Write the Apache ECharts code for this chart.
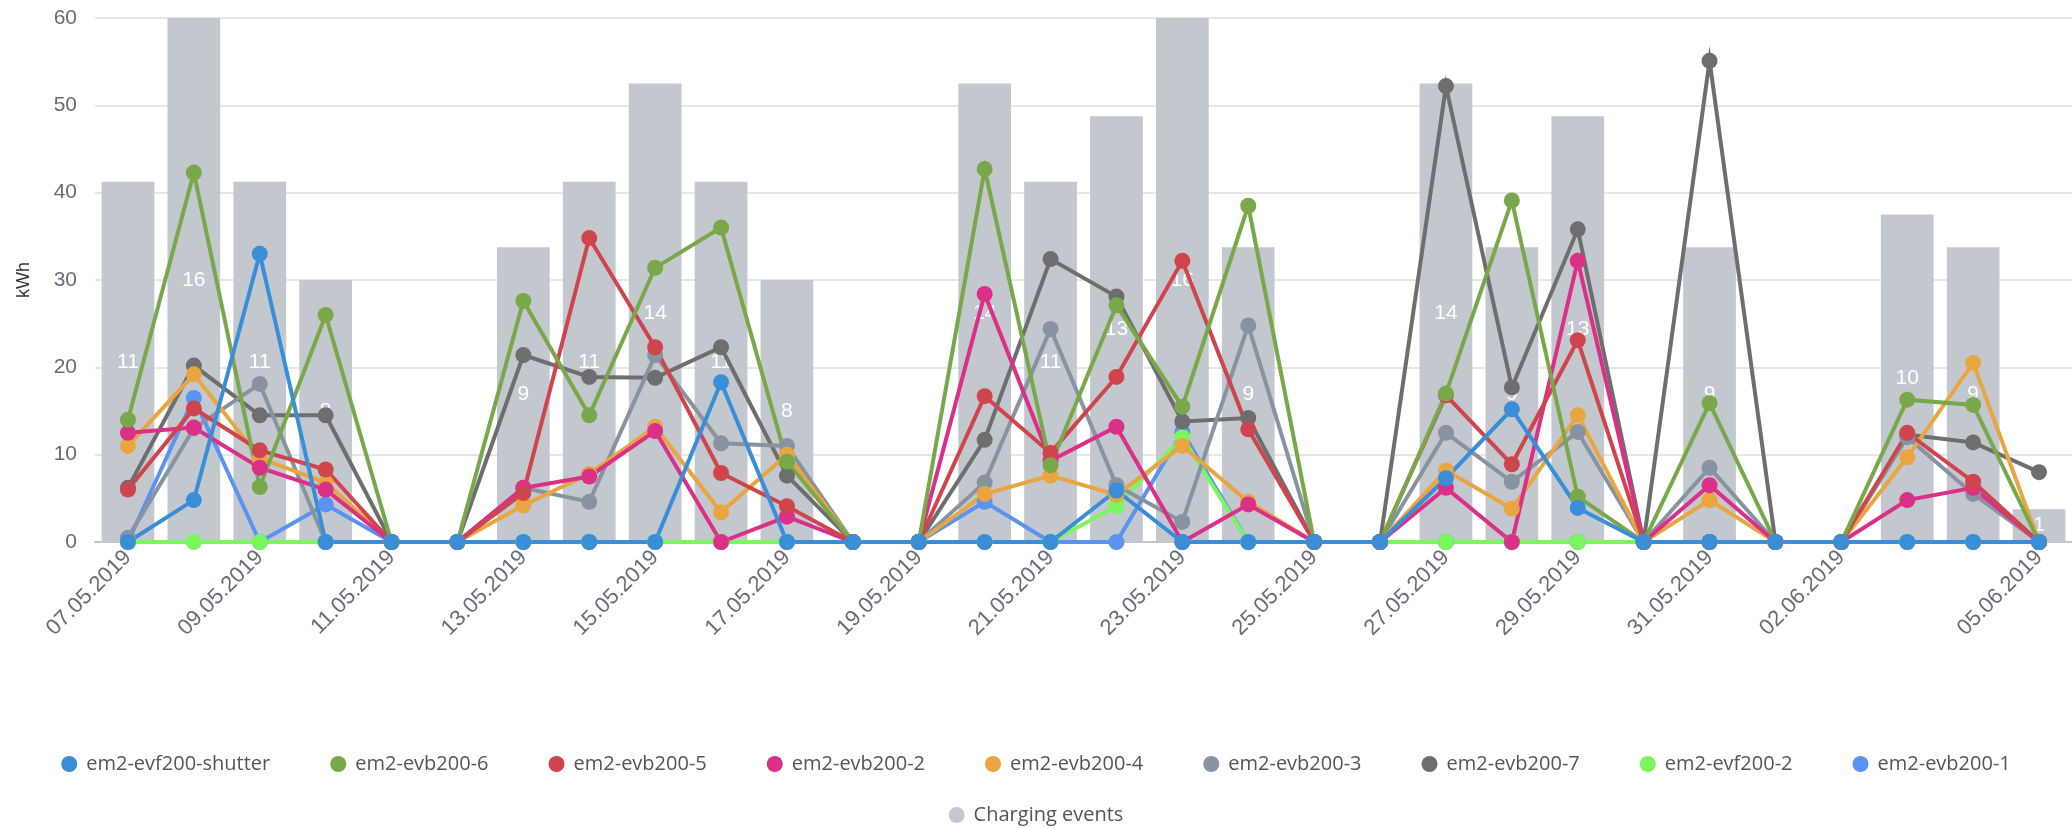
<!DOCTYPE html>
<html>
<head>
<meta charset="utf-8">
<script src="https://cdn.jsdelivr.net/npm/echarts@6/dist/echarts.min.js"></script>
<style>
html,body{margin:0;padding:0;background:#fff;}
#chart{width:2072px;height:828px;}
</style>
</head>
<body>
<div id="chart"></div>
<script>
const categories = ["07.05.2019","08.05.2019","09.05.2019","10.05.2019","11.05.2019","12.05.2019","13.05.2019","14.05.2019","15.05.2019","16.05.2019","17.05.2019","18.05.2019","19.05.2019","20.05.2019","21.05.2019","22.05.2019","23.05.2019","24.05.2019","25.05.2019","26.05.2019","27.05.2019","28.05.2019","29.05.2019","30.05.2019","31.05.2019","01.06.2019","02.06.2019","03.06.2019","04.06.2019","05.06.2019"];

const chargingEvents = [11,16,11,8,null,null,9,11,14,11,8,null,null,14,11,13,16,9,null,null,14,9,13,null,9,null,null,10,9,1];

const evf200Shutter = [0,4.8,33,0,0,0,0,0,0,18.3,0,0,0,0,0,5.9,0,0,0,0,7.3,15.2,3.9,0,0,0,0,0,0,0];
const evb200_6 = [14,42.3,6.3,26,0,0,27.6,14.5,31.4,36,9.2,0,0,42.7,8.8,27.1,15.5,38.5,0,0,17,39.1,5.2,0,15.9,0,0,16.3,15.7,0];
const evb200_5 = [6,15.3,10.5,8.3,0,0,5.6,34.8,22.3,7.9,4.1,0,0,16.7,10.2,18.9,32.2,12.9,0,0,16.8,8.9,23.1,0,0,0,0,12.5,6.9,0];
const evb200_2 = [12.5,13.1,8.5,6,0,0,6.2,7.5,12.7,0,2.9,0,0,28.4,9.3,13.2,0,4.3,0,0,6.2,0,32.2,0,6.5,0,0,4.8,6.2,0];
const evb200_4 = [11,19.2,9.6,6.8,0,0,4.2,7.8,13.2,3.4,10,0,0,5.5,7.6,5.4,11,4.6,0,0,8.2,3.8,14.5,0,4.8,0,0,9.7,20.5,0];
const evb200_3 = [0.5,13,18.1,0,0,0,6.2,4.6,21.4,11.3,11,0,0,6.8,24.4,6.5,2.3,24.8,0,0,12.5,6.9,12.6,0,8.5,0,0,12,5.5,0];
const evb200_7 = [6.2,20.2,14.5,14.5,0,0,21.4,18.9,18.8,22.3,7.6,0,0,11.7,32.4,28.1,13.8,14.2,0,0,52.2,17.7,35.8,0,55.1,0,0,12.3,11.4,8];
const evf200_2 = [0,0,0,0,0,0,0,0,0,0,0,0,0,0,0,4.1,12,0,0,0,0,0,0,0,0,0,0,0,0,0];
const evb200_1 = [0,16.5,0,4.3,0,0,0,0,0,0,0,0,0,4.6,0,0,12.6,0,0,0,0,0,0,0,0,0,0,0,0,0];

const lineNames = ["em2-evf200-shutter","em2-evb200-6","em2-evb200-5","em2-evb200-2","em2-evb200-4","em2-evb200-3","em2-evb200-7","em2-evf200-2","em2-evb200-1"];
const lineData = [evf200Shutter, evb200_6, evb200_5, evb200_2, evb200_4, evb200_3, evb200_7, evf200_2, evb200_1];
const lineColors = ["#3a8ed8","#79a84b","#d0454d","#db3088","#e9a640","#8793a0","#6e6e6e","#7bf65c","#5b93f0"];
const barName = "Charging events";
const barColor = "#c3c8cf";

const chart = echarts.init(document.getElementById('chart'), null, {renderer:'canvas'});

const series = [];
series.push({
  name: barName,
  type: 'bar',
  yAxisIndex: 1,
  data: chargingEvents,
  barCategoryGap: '20%',
  itemStyle: {color: barColor},
  z: 1,
  label: {show: true, position: 'inside', color: '#ffffff', fontSize: 21, fontFamily: 'Liberation Sans, Arial, sans-serif'}
});
for (let i = lineNames.length - 1; i >= 0; i--) {
  series.push({
    name: lineNames[i],
    type: 'line',
    yAxisIndex: 0,
    data: lineData[i],
    symbol: 'circle',
    symbolSize: 16,
    showAllSymbol: true,
    z: 3,
    itemStyle: {color: lineColors[i]},
    lineStyle: {color: lineColors[i], width: 4, join: 'miter', miterLimit: 12}
  });
}

const option = {
  animation: false,
  grid: {left: 95, right: -4, top: 18, bottom: 286, containLabel: false},
  legend: [{
    data: lineNames.map(n => ({name: n, icon: 'circle'})),
    left: 'center',
    top: 747,
    itemWidth: 16,
    itemHeight: 16,
    itemGap: 60,
    textStyle: {fontSize: 20, fontFamily: 'Open Sans, sans-serif', color: '#555555', lineHeight: 24, padding: [0,0,0,4]}
  },{
    data: [{name: barName, icon: 'circle'}],
    left: 'center',
    top: 798,
    itemWidth: 16,
    itemHeight: 16,
    textStyle: {fontSize: 20, fontFamily: 'Open Sans, sans-serif', color: '#555555', lineHeight: 24, padding: [0,0,0,4]}
  }],
  xAxis: {
    type: 'category',
    data: categories,
    boundaryGap: true,
    axisLine: {show: true, lineStyle: {color: '#c4c4c4', width: 2}},
    axisTick: {show: false},
    axisLabel: {
      rotate: 45,
      margin: 12,
      fontSize: 22,
      color: '#666d76',
      fontFamily: 'Liberation Sans, Arial, sans-serif',
      interval: function (index) { return index === 29 || (index % 2 === 0 && index !== 28); }
    }
  },
  yAxis: [{
    type: 'value',
    min: 0, max: 60, interval: 10,
    name: 'kWh',
    nameLocation: 'middle',
    nameGap: 62,
    nameRotate: 90,
    nameTextStyle: {fontSize: 18, color: '#333333', fontFamily: 'Liberation Sans, Arial, sans-serif'},
    axisLine: {show: false},
    axisTick: {show: false},
    axisLabel: {fontSize: 21, color: '#666d76', margin: 18, fontFamily: 'Liberation Sans, Arial, sans-serif'},
    splitLine: {lineStyle: {color: '#e6e6e6', width: 2}}
  },{
    type: 'value',
    min: 0, max: 16,
    show: false,
    splitLine: {show: false}
  }],
  series: series
};
chart.setOption(option);
</script>
</body>
</html>
